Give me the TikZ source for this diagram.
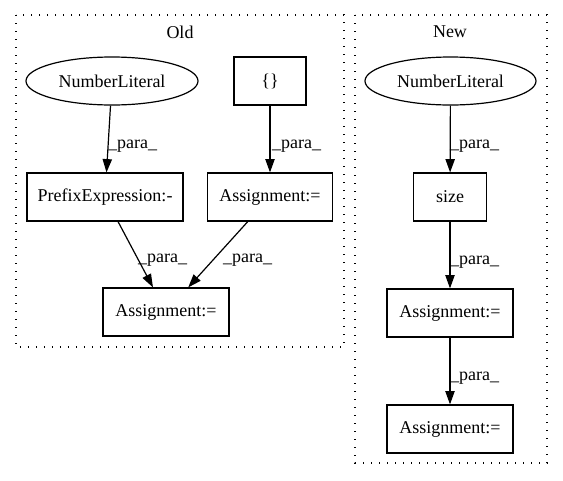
\documentclass[tikz,border=0pt]{standalone}
\usepackage{fontspec}
\setmainfont{Liberation Serif}
\usetikzlibrary{arrows.meta,shapes.geometric}
\begin{document}
\begin{tikzpicture}[x=1pt,y=-1pt,
  every node/.style={font=\fontsize{18}{22}\selectfont},
  box/.style={draw,line width=1.2pt,rectangle,inner sep=0pt,minimum height=48pt},
  oval/.style={draw,line width=1.2pt,ellipse,inner sep=0pt,minimum height=48pt},
  cluster/.style={draw,line width=1.33pt,dash pattern=on 1.33pt off 6.67pt},
  edge/.style={draw,line width=1.2pt,-{Triangle[length=13.3pt,width=9.3pt]}},
  lbl/.style={anchor=base west,inner sep=0pt}]
\useasboundingbox (0,0) rectangle (563,480);
% clusters
\draw[cluster] (16,15) rectangle (344,347);
\draw[cluster] (355,15) rectangle (547,463);
\node (oldt) at (180,32) {Old};
\node (newt) at (450,32) {New};
% old nodes
\node[oval,minimum width=172pt] (nl1) at (112,81) {NumberLiteral};
\node[box,minimum width=72pt] (br) at (270,81) {\{\}};
\node[box,minimum width=156pt] (pre) at (105,197) {PrefixExpression:-};
\node[box,minimum width=125pt] (as1) at (270,197) {Assignment:=};
\node[box,minimum width=126pt] (as2) at (166,312) {Assignment:=};
% new nodes
\node[oval,minimum width=171pt] (nl2) at (450.5,81) {NumberLiteral};
\node[box,minimum width=73pt] (sz) at (450,197) {size};
\node[box,minimum width=126pt] (as3) at (450,313) {Assignment:=};
\node[box,minimum width=126pt] (as4) at (450,429) {Assignment:=};
% edges
\draw[edge] (nl1) -- (pre);
\draw[edge] (br) -- (as1);
\draw[edge] (pre) -- (as2);
\draw[edge] (as1) -- (as2);
\draw[edge] (nl2) -- (sz);
\draw[edge] (sz) -- (as3);
\draw[edge] (as3) -- (as4);
% labels
\node[lbl] (l1) at (108,148) {\_para\_};
\node[lbl] (l2) at (272,148) {\_para\_};
\node[lbl] (l3) at (138,262) {\_para\_};
\node[lbl] (l4) at (223,262) {\_para\_};
\node[lbl] (l5) at (450,148) {\_para\_};
\node[lbl] (l6) at (450,264) {\_para\_};
\node[lbl] (l7) at (450,380) {\_para\_};
\end{tikzpicture}
\end{document}
